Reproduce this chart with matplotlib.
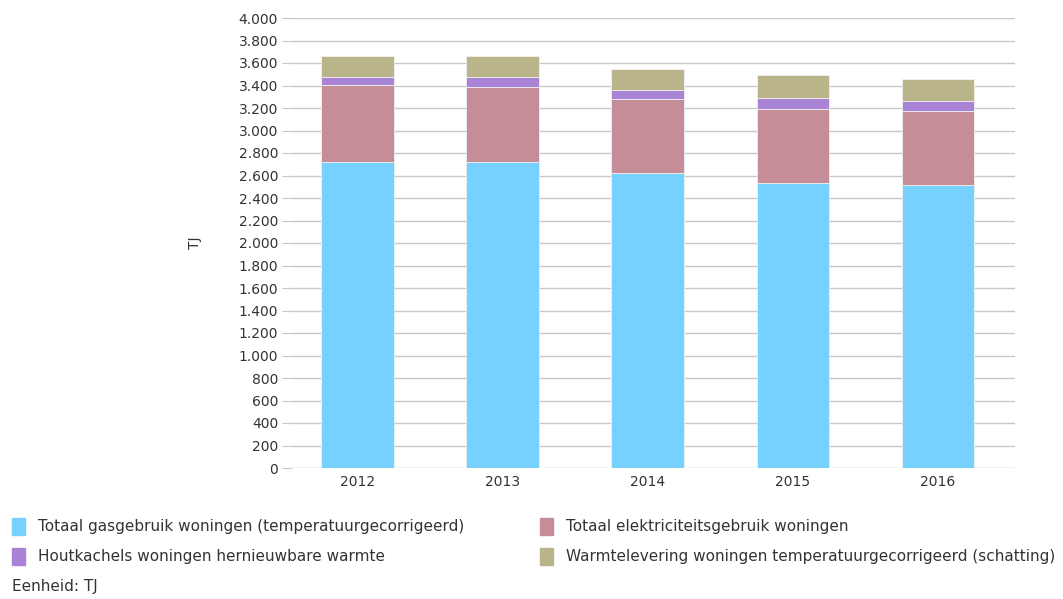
import matplotlib.pyplot as plt
import numpy as np

plt.rcParams['font.family'] = ['DejaVu Sans']

jaren = ['2012', '2013', '2014', '2015', '2016']
gas = [2717, 2720, 2620, 2530, 2520]
elektriciteit = [687, 670, 657, 658, 656]
houtkachels = [71, 85, 83, 101, 83]
warmte = [187, 187, 183, 201, 202]

reeksen = [
    ('Totaal gasgebruik woningen (temperatuurgecorrigeerd)', gas, '#77D1FF'),
    ('Totaal elektriciteitsgebruik woningen', elektriciteit, '#C48D98'),
    ('Houtkachels woningen hernieuwbare warmte', houtkachels, '#A984D6'),
    ('Warmtelevering woningen temperatuurgecorrigeerd (schatting)', warmte, '#BAB48A'),
]

fig = plt.figure(figsize=(10.63, 5.99), dpi=100)
ax = fig.add_axes([292 / 1063, 1 - 468 / 599, (1015 - 292) / 1063, 450 / 599])

x = np.arange(len(jaren))
onder = np.zeros(len(jaren))
for naam, waarden, kleur in reeksen:
    ax.bar(x, waarden, 0.5, bottom=onder, color=kleur, edgecolor='#f0f0f0',
           linewidth=0.6, label=naam, zorder=3)
    onder += np.array(waarden)

ax.set_ylim(0, 4000)
ax.set_xlim(-0.45, 4.53)
ax.set_yticks(range(0, 4001, 200))
ax.set_yticklabels([f'{v:,}'.replace(',', '.') for v in range(0, 4001, 200)])
ax.set_xticks(x)
ax.set_xticklabels(jaren)
ax.grid(axis='y', color='#c8c8c8', linewidth=1, zorder=0)
for s in ax.spines.values():
    s.set_visible(False)
ax.tick_params(axis='y', length=7, color='#c8c8c8', labelsize=10, labelcolor='#333333', pad=3)
ax.tick_params(axis='x', length=0, labelsize=10, labelcolor='#333333', pad=5)
ax.set_ylabel('TJ', fontsize=10, color='#333333')
ax.yaxis.set_label_coords((202 - 292) / 723, 0.5)

# legenda onderaan
posities = [(12, 527), (540, 527), (12, 557), (540, 557)]
for (naam, _, kleur), (px, py) in zip(reeksen, posities):
    fig.patches.append(plt.Rectangle((px / 1063, 1 - (py + 8) / 599), 13 / 1063, 17 / 599,
                                     transform=fig.transFigure, color=kleur))
    fig.text((px + 26) / 1063, 1 - py / 599, naam, fontsize=11, color='#333333', va='center')
fig.text(12 / 1063, 1 - 587 / 599, 'Eenheid: TJ', fontsize=11, color='#333333', va='center')

fig.savefig('out.png', dpi=100)
